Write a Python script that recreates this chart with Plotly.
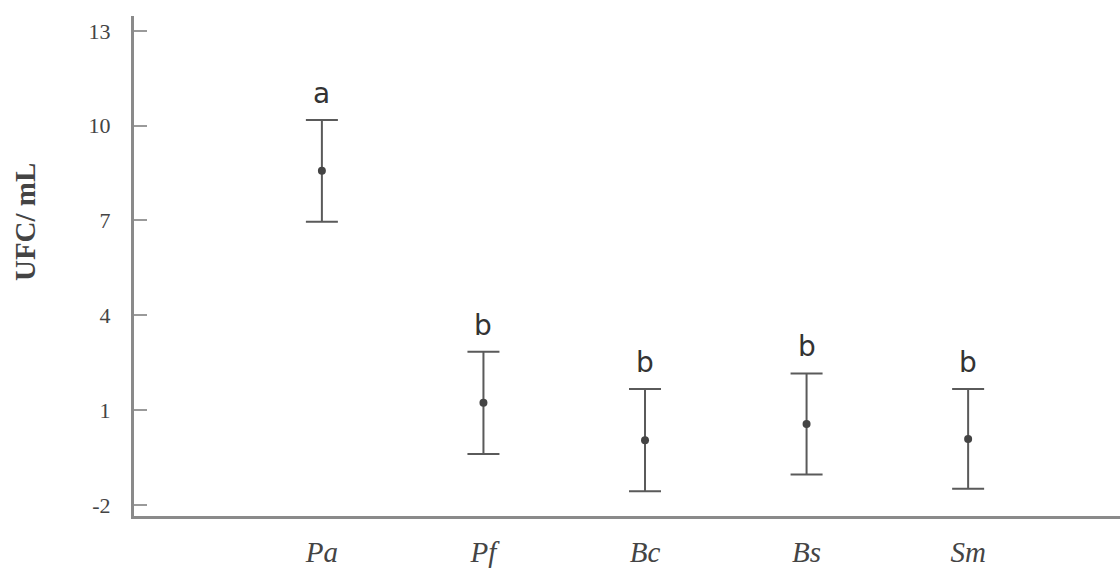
import plotly.graph_objects as go

categories = ["Pa", "Pf", "Bc", "Bs", "Sm"]
means = [8.57, 1.23, 0.05, 0.56, 0.09]
errors = [1.61, 1.62, 1.62, 1.60, 1.58]
letters = ["a", "b", "b", "b", "b"]
y_ticks = [-2, 1, 4, 7, 10, 13]
y_tick_text = ["-2", "1", "4", "7", "10", "13"]

x_pos = list(range(len(categories)))

fig = go.Figure()
fig.add_trace(go.Scatter(
    x=x_pos, y=means, mode="markers",
    marker=dict(color="#444444", size=8),
    error_y=dict(type="data", array=errors, visible=True,
                 color="#5a5a5a", thickness=2, width=16),
    showlegend=False,
))

for xi, m, e, lab in zip(x_pos, means, errors, letters):
    fig.add_annotation(x=xi, y=m + e, text=lab, showarrow=False,
                       yanchor="bottom", yshift=8,
                       font=dict(family="DejaVu Sans", size=28, color="#333333"))

fig.add_annotation(xref="paper", yref="paper", x=-0.111, y=0.587,
                   text="<b>UFC/ mL</b>", textangle=-90, showarrow=False,
                   xanchor="center", yanchor="middle",
                   font=dict(family="Liberation Serif", size=29, color="#444444"))

fig.update_xaxes(
    range=[-1.163, 4.94], tickmode="array", tickvals=x_pos,
    ticktext=[f"<i>{c}</i>" for c in categories],
    showline=True, linecolor="#8a8a8a", linewidth=3,
    showgrid=False, zeroline=False, ticks="",
    ticklabelstandoff=8,
    tickfont=dict(family="Liberation Serif", size=29, color="#444444"),
)
fig.update_yaxes(
    range=[-2.35, 13.47], tickmode="array", tickvals=y_ticks,
    ticktext=y_tick_text,
    showline=True, linecolor="#8a8a8a", linewidth=3,
    showgrid=False, zeroline=False,
    ticks="inside", ticklen=13, tickwidth=1.5, tickcolor="#9a9a9a",
    ticklabelstandoff=16,
    tickfont=dict(family="Liberation Serif", size=22, color="#444444"),
)
fig.update_layout(
    width=1120, height=572,
    margin=dict(l=134, r=0, t=16, b=56),
    plot_bgcolor="white", paper_bgcolor="white",
)
fig.write_html("out.html")
